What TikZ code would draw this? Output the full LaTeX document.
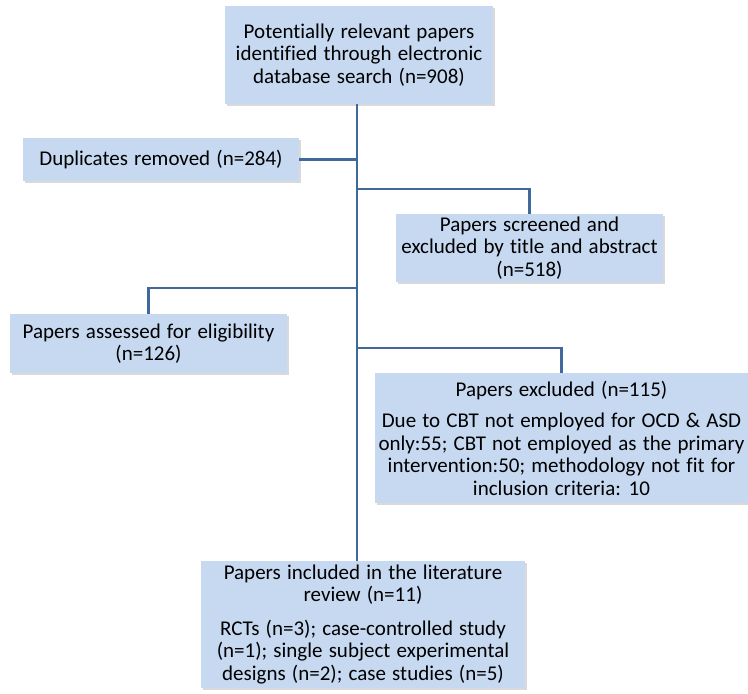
\documentclass[tikz,border=0pt]{standalone}
\usepackage{fontspec}
\setmainfont{Carlito}[Ligatures={NoCommon},WordSpace=1.3]
\usetikzlibrary{positioning,shadows}
\definecolor{boxblue}{RGB}{198,217,241}
\definecolor{linkblue}{RGB}{65,104,155}

\begin{document}
\begin{tikzpicture}
  [x=1pt,y=-1pt,
   every node/.style={rectangle,fill=boxblue,inner sep=0pt,align=center,
     font=\fontsize{21}{22.5}\selectfont,
     drop shadow={shadow xshift=2pt,shadow yshift=-2pt,opacity=.3}},
   link/.style={draw=linkblue,line width=2.4pt}]
  \useasboundingbox (0,0) rectangle (748,694);
  \node[minimum width=268pt,minimum height=98pt] (search) at (359,55)
    {Potentially relevant papers\\identified through electronic\\database search (n=908)};
  \node[minimum width=276pt,minimum height=43pt] (dup) at (161,159.5)
    {Duplicates removed (n=284)};
  \node[minimum width=267pt,minimum height=68pt] (scr) at (529.5,248)
    {Papers screened and\\excluded by title and abstract\\(n=518)};
  \node[minimum width=277pt,minimum height=59pt] (elig) at (148.5,343.5)
    {Papers assessed for eligibility\\(n=126)};
  \node[minimum width=373pt,minimum height=130pt] (excl) at (561.5,438)
    {Papers excluded (n=115)\\[9pt]Due to CBT not employed for OCD \& ASD\\only:55; CBT not employed as the primary\\intervention:50; methodology not fit for\\inclusion criteria: 10};
  \node[minimum width=324pt,minimum height=127pt] (incl) at (363,624.5)
    {Papers included in the literature\\review (n=11)\\[11pt]RCTs (n=3); case-controlled study\\(n=1); single subject experimental\\designs (n=2); case studies (n=5)};

  \coordinate (trunk) at (357,0);
  \coordinate (j1) at (357,189);
  \coordinate (j2) at (357,288);
  \coordinate (j3) at (357,348);

  \draw[link] (search.south -| trunk) -- (incl.north -| trunk);
  \draw[link] (dup.east) -- (dup.east -| trunk);
  \draw[link] (j1) -| (scr.north);
  \draw[link] (j2) -| (elig.north);
  \draw[link] (j3) -| (excl.north);
\end{tikzpicture}
\end{document}
